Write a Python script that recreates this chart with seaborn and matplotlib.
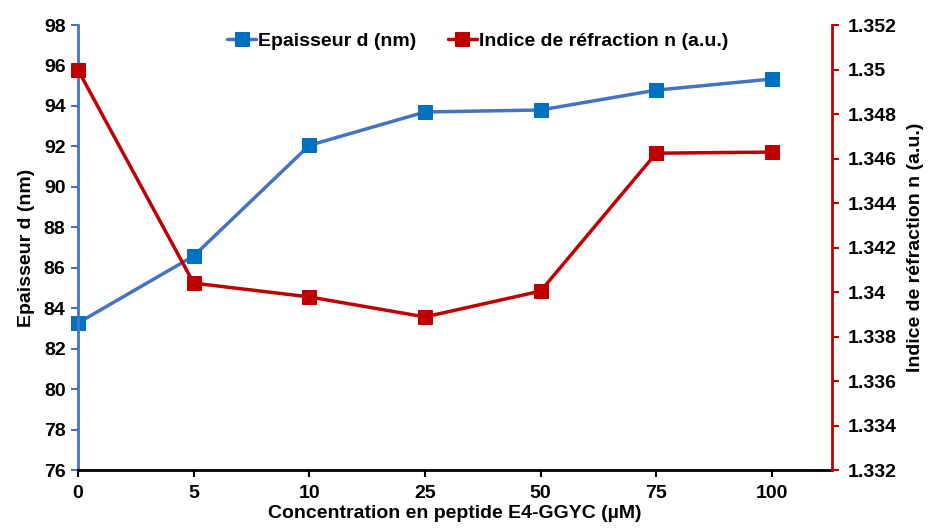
import seaborn as sns
import matplotlib.pyplot as plt
import pandas as pd
import numpy as np

# Valeurs
concentration = ['0', '5', '10', '25', '50', '75', '100']
epaisseur = [83.27, 86.58, 92.05, 93.7, 93.8, 94.78, 95.33]
indice = [1.34998, 1.34040, 1.33978, 1.33888, 1.34004, 1.34624, 1.34629]

df = pd.DataFrame({'conc': concentration, 'pos': np.arange(len(concentration)),
                   'epaisseur': epaisseur, 'indice': indice})

sns.set_style('white')
plt.rcParams['font.family'] = ['Liberation Sans', 'DejaVu Sans']
plt.rcParams['font.weight'] = 'bold'
plt.rcParams['text.color'] = 'black'
plt.rcParams['axes.labelcolor'] = 'black'

bleu = '#4472C4'
bleu_mk = '#0070C0'
rouge = '#C00000'
fs = 14

fig = plt.figure(figsize=(9.32, 5.29), dpi=100)
ax = fig.add_axes([0.0837, 0.1115, 0.8090, 0.8412])
ax2 = ax.twinx()

sns.lineplot(x='pos', y='epaisseur', data=df, ax=ax, color=bleu, linewidth=2.5,
             marker='s', markersize=10, markerfacecolor=bleu_mk, markeredgecolor=bleu_mk,
             label='Epaisseur d (nm)', legend=False, clip_on=False)
sns.lineplot(x='pos', y='indice', data=df, ax=ax2, color=rouge, linewidth=2.5,
             marker='s', markersize=10, markerfacecolor=rouge, markeredgecolor=rouge,
             label='Indice de réfraction n (a.u.)', legend=False, clip_on=False)

ax.set_xlim(0, 6.52)
ax.set_ylim(76, 98)
ax.set_yticks(np.arange(76, 99, 2))
ax2.set_ylim(1.332, 1.352)
ax2.set_yticks(np.arange(1.332, 1.3521, 0.002))
ax2.set_yticklabels([('%.3f' % v).rstrip('0') for v in np.arange(1.332, 1.3521, 0.002)])
ax.set_xticks(df['pos'])
ax.set_xticklabels(concentration)

for a in (ax, ax2):
    a.spines['top'].set_visible(False)
    a.tick_params(labelsize=fs, width=1.5, length=5)
ax.spines['left'].set_color(bleu)
ax.spines['left'].set_linewidth(2)
ax.spines['bottom'].set_color('black')
ax.spines['bottom'].set_linewidth(2)
ax.spines['right'].set_visible(False)
ax2.spines['left'].set_visible(False)
ax2.spines['bottom'].set_visible(False)
ax2.spines['right'].set_color(rouge)
ax2.spines['right'].set_linewidth(2)
ax.tick_params(axis='y', colors=bleu, labelcolor='black', left=True, direction='out', pad=4)
ax.tick_params(axis='x', colors='black', bottom=True, direction='out', pad=6)
ax2.tick_params(axis='y', colors=rouge, labelcolor='black', right=True, direction='out', pad=6)

ax.set_xlabel('Concentration en peptide E4-GGYC (µM)', fontsize=fs, fontweight='bold', labelpad=2)
ax.set_ylabel('Epaisseur d (nm)', fontsize=fs, fontweight='bold', labelpad=6)
ax2.set_ylabel('Indice de réfraction n (a.u.)', fontsize=fs, fontweight='bold', labelpad=8)

h1, l1 = ax.get_legend_handles_labels()
h2, l2 = ax2.get_legend_handles_labels()
ax2.legend(h1 + h2, l1 + l2, loc='upper center', bbox_to_anchor=(0.53, 1.01), ncol=2,
           frameon=False, fontsize=fs, handlelength=1.5, handletextpad=0.1, columnspacing=1.6,
           borderaxespad=0.2)

fig.savefig('out.png', dpi=100)
